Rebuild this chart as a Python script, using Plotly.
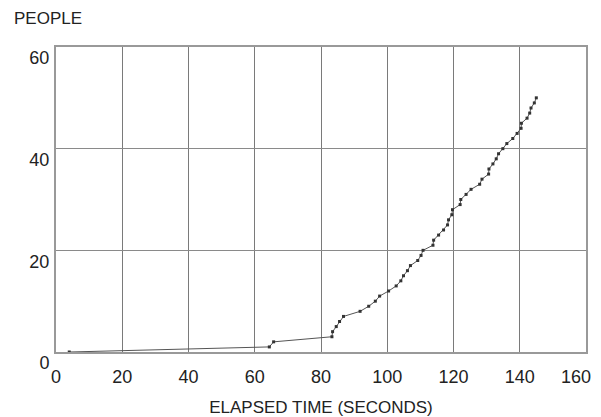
import plotly.graph_objects as go

# Elapsed time (seconds) at which each person count is reached
elapsed_time = [4, 64.4, 65.7, 83.3, 83.5, 84.6, 85.6, 86.8, 91.8, 94.4,
                96.4, 97.7, 100.4, 102.7, 104.1, 104.9, 106.1, 107.0, 109.2, 110.2,
                110.8, 113.8, 114.0, 115.5, 117.0, 118.2, 118.5, 119.5, 119.7, 122.0,
                122.2, 123.8, 125.3, 127.9, 128.6, 130.6, 130.7, 131.9, 132.9, 133.6,
                134.9, 136.1, 137.9, 139.2, 140.4, 140.5, 142.2, 143.0, 143.4, 144.4,
                145.0]
people = list(range(0, 51))

x_ticks = [0, 20, 40, 60, 80, 100, 120, 140, 160]
x_tick_labels = [str(v) for v in x_ticks]
y_ticks = [0, 20, 40, 60]

font_family = "Liberation Sans, Arial, sans-serif"

# page body has an 8px default margin, so the figure is sized to fit inside it
OFF = 8
W, H = 601 - OFF, 417 - OFF
ML, MR, MT, MB = 56 - OFF, 15, 47 - OFF, 65
PW, PH = W - ML - MR, H - MT - MB

fig = go.Figure()
fig.add_trace(go.Scatter(
    x=elapsed_time, y=people, mode="lines+markers",
    line=dict(color="#555555", width=1),
    marker=dict(symbol="square", size=3, color="#333333"),
    showlegend=False, hoverinfo="skip",
))

# last tick label would overflow the page edge: drawn as an annotation instead
axis_text = x_tick_labels[:-1] + [""]

fig.update_layout(
    width=W, height=H,
    margin=dict(l=ML, r=MR, t=MT, b=MB, autoexpand=False),
    paper_bgcolor="white", plot_bgcolor="white",
    font=dict(family=font_family, size=18, color="#222222"),
    xaxis=dict(
        range=[0, 160], tickvals=x_ticks, ticktext=axis_text,
        ticks="", automargin=False,
        showgrid=True, gridcolor="#7a7a7a", gridwidth=1,
        showline=True, linecolor="#999999", linewidth=2, mirror=True,
        zeroline=False, ticklabelstandoff=7,
        title=dict(text="ELAPSED TIME (SECONDS)", standoff=16,
                   font=dict(size=17)),
    ),
    yaxis=dict(
        range=[0, 60], tickvals=y_ticks, ticks="", automargin=False,
        showgrid=True, gridcolor="#8a8a8a", gridwidth=1,
        showline=True, linecolor="#999999", linewidth=2, mirror=True,
        zeroline=False, ticklabelshift=11, ticklabelstandoff=1,
    ),
    annotations=[
        dict(text="PEOPLE", xref="paper", yref="paper",
             x=(12 - 56) / PW, y=1 + (47 - 18.5) / PH,
             showarrow=False, xanchor="left", yanchor="middle",
             font=dict(size=17, color="#222222")),
        dict(text=x_tick_labels[-1], xref="paper", yref="paper",
             x=(593 - 56) / PW, y=0, yshift=-25,
             showarrow=False, xanchor="right", yanchor="middle",
             font=dict(size=18, color="#222222")),
    ],
)

fig.write_html("out.html")
